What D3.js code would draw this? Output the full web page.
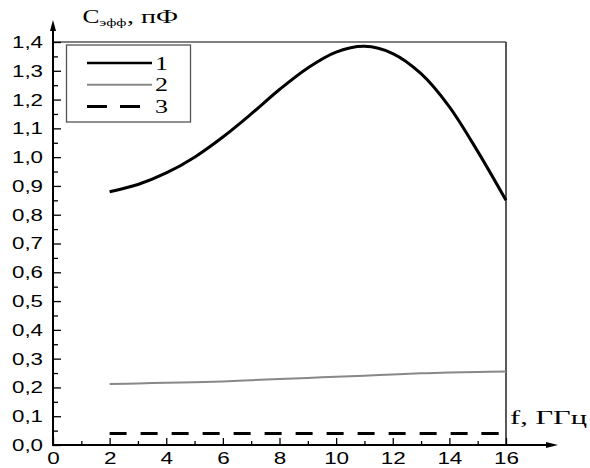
<!DOCTYPE html>
<html>
<head>
<meta charset="utf-8">
<script src="https://cdn.jsdelivr.net/npm/d3@7"></script>
<style>
  body { margin: 0; background: #fff; }
</style>
</head>
<body>
<div id="chart"></div>
<script>
// values
const freq = [2, 3, 4, 5, 6, 7, 8, 9, 10, 11, 12, 13, 14, 15, 16];
const curve1 = [0.88, 0.905, 0.945, 1.0, 1.07, 1.15, 1.235, 1.31, 1.365, 1.385, 1.36, 1.29, 1.175, 1.02, 0.85];
const curve2 = [0.212, 0.214, 0.216, 0.218, 0.221, 0.225, 0.229, 0.233, 0.237, 0.241, 0.245, 0.249, 0.252, 0.254, 0.255];
const curve3 = [0.04, 0.04, 0.04, 0.04, 0.04, 0.04, 0.04, 0.04, 0.04, 0.04, 0.04, 0.04, 0.04, 0.04, 0.04];
const xTicks = [0, 2, 4, 6, 8, 10, 12, 14, 16];
const yTicks = [0, 0.1, 0.2, 0.3, 0.4, 0.5, 0.6, 0.7, 0.8, 0.9, 1.0, 1.1, 1.2, 1.3, 1.4];
const legendNames = ["1", "2", "3"];

const W = 590, H = 468;
const svg = d3.select("#chart").append("svg")
    .attr("width", W)
    .attr("height", H);

const x = d3.scaleLinear().domain([0, 16]).range([53, 506]);
const y = d3.scaleLinear().domain([0, 1.4]).range([445, 42]);

const sans = "'Liberation Sans', Arial, sans-serif";
const serif = "'Liberation Serif', 'Times New Roman', serif";

// frame (top and right)
svg.append("line")
    .attr("x1", x(0)).attr("x2", x(16))
    .attr("y1", y(1.4)).attr("y2", y(1.4))
    .attr("stroke", "#555").attr("stroke-width", 1.5);
svg.append("line")
    .attr("x1", x(16)).attr("x2", x(16))
    .attr("y1", y(1.4)).attr("y2", y(0))
    .attr("stroke", "#222").attr("stroke-width", 1.5);

// minor ticks
svg.append("g")
    .attr("transform", "translate(0," + y(0) + ")")
    .call(d3.axisBottom(x).tickValues(d3.range(1, 16, 2)).tickSize(-4).tickFormat(""))
    .call(g => g.select(".domain").remove())
    .selectAll("line").attr("stroke-width", 1.3);
svg.append("g")
    .attr("transform", "translate(" + x(0) + ",0)")
    .call(d3.axisLeft(y).tickValues(d3.range(0.05, 1.4, 0.1)).tickSize(-5).tickFormat(""))
    .call(g => g.select(".domain").remove())
    .selectAll("line").attr("stroke-width", 1.3);

// x axis
const xAxis = svg.append("g")
    .attr("transform", "translate(0," + y(0) + ")")
    .call(d3.axisBottom(x).tickValues(xTicks).tickSize(-7).tickPadding(7).tickFormat(d3.format("d")));
xAxis.select(".domain").remove();
xAxis.selectAll("line").attr("stroke-width", 1.3);
xAxis.selectAll("text")
    .attr("font-family", sans).attr("font-size", 17).attr("fill", "#000")
    .attr("textLength", d => String(d).length * 12.5)
    .attr("lengthAdjust", "spacingAndGlyphs");

// y axis
const yAxis = svg.append("g")
    .attr("transform", "translate(" + x(0) + ",0)")
    .call(d3.axisLeft(y).tickValues(yTicks).tickSize(-8).tickPadding(10)
        .tickFormat(d => d3.format(".1f")(d).replace(".", ",")));
yAxis.select(".domain").remove();
yAxis.selectAll("line").attr("stroke-width", 1.3);
yAxis.selectAll("text")
    .attr("font-family", sans).attr("font-size", 17).attr("fill", "#000")
    .attr("textLength", 31)
    .attr("lengthAdjust", "spacingAndGlyphs");

// axis lines with arrows
svg.append("line")
    .attr("x1", x(0)).attr("x2", x(0))
    .attr("y1", y(0) + 1).attr("y2", 26)
    .attr("stroke", "#000").attr("stroke-width", 2);
svg.append("path")
    .attr("d", `M${x(0)},20 L${x(0) - 3},31 L${x(0) + 3},31 Z`)
    .attr("fill", "#000");
svg.append("line")
    .attr("x1", x(0) - 1).attr("x2", 550)
    .attr("y1", y(0)).attr("y2", y(0))
    .attr("stroke", "#000").attr("stroke-width", 2);
svg.append("path")
    .attr("d", `M558,${y(0)} L546,${y(0) - 3} L546,${y(0) + 3} Z`)
    .attr("fill", "#000");

// curves
const line = (vals) => d3.line()
    .x((d, i) => x(freq[i]))
    .y(d => y(d))
    .curve(d3.curveCatmullRom)(vals);

svg.append("path").attr("d", line(curve2))
    .attr("fill", "none").attr("stroke", "#888").attr("stroke-width", 2);
svg.append("path").attr("d", line(curve3))
    .attr("fill", "none").attr("stroke", "#000").attr("stroke-width", 3.2)
    .attr("stroke-dasharray", "17,14");
svg.append("path").attr("d", line(curve1))
    .attr("fill", "none").attr("stroke", "#000").attr("stroke-width", 3);

// legend
const lg = svg.append("g");
lg.append("rect")
    .attr("x", 66.5).attr("y", 45).attr("width", 124).attr("height", 77)
    .attr("fill", "#fff").attr("stroke", "#555").attr("stroke-width", 1.3);
const legendStyles = [
    { stroke: "#000", width: 2.5, dash: null },
    { stroke: "#888", width: 2, dash: null },
    { stroke: "#000", width: 3, dash: "20,13" }
];
legendNames.forEach((name, i) => {
    const ly = 63 + i * 21.8;
    lg.append("line")
        .attr("x1", 87).attr("x2", 152)
        .attr("y1", ly).attr("y2", ly)
        .attr("stroke", legendStyles[i].stroke)
        .attr("stroke-width", legendStyles[i].width)
        .attr("stroke-dasharray", legendStyles[i].dash);
    lg.append("text")
        .attr("x", 155).attr("y", ly + 6.5)
        .attr("font-family", serif).attr("font-size", 19)
        .attr("textLength", 13).attr("lengthAdjust", "spacingAndGlyphs")
        .text(name);
});

// axis titles
svg.append("text")
    .attr("x", 82.5).attr("y", 22.5)
    .attr("font-family", serif).attr("font-size", 19)
    .attr("textLength", 17).attr("lengthAdjust", "spacingAndGlyphs")
    .text("C");
svg.append("text")
    .attr("x", 99.5).attr("y", 26)
    .attr("font-family", serif).attr("font-size", 10)
    .attr("textLength", 27).attr("lengthAdjust", "spacingAndGlyphs")
    .text("эфф");
svg.append("text")
    .attr("x", 127).attr("y", 22.5)
    .attr("font-family", serif).attr("font-size", 18)
    .attr("textLength", 51).attr("lengthAdjust", "spacingAndGlyphs")
    .text(", пФ");

svg.append("text")
    .attr("x", 510).attr("y", 424)
    .attr("font-family", serif).attr("font-size", 18)
    .attr("textLength", 77).attr("lengthAdjust", "spacingAndGlyphs")
    .text("f, ГГц");
</script>
</body>
</html>
